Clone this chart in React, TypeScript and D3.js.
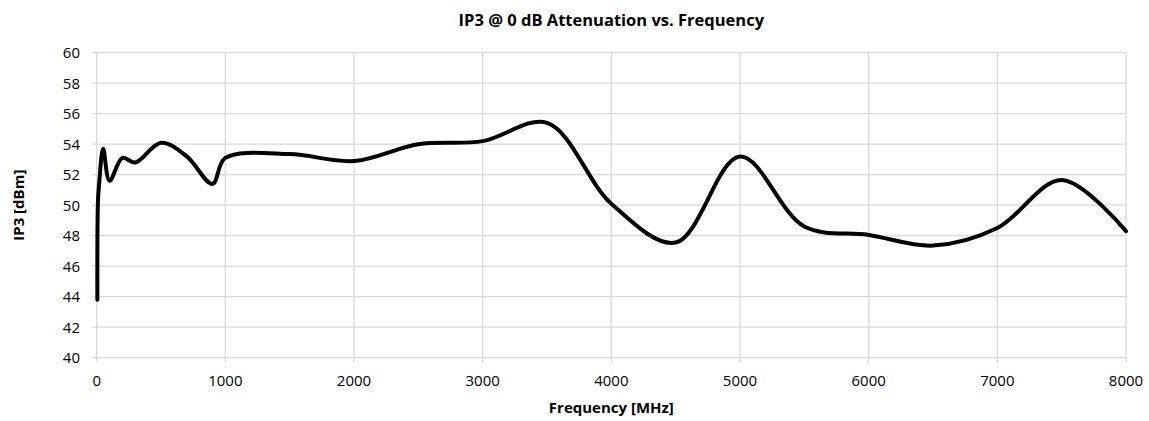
import React, { useEffect, useRef } from 'react';
import * as d3 from 'd3';

const freqMHz = [5, 10, 20, 50, 100, 200, 300, 500, 700, 900, 1000, 1500, 2000, 2500, 3000, 3500, 4000, 4500, 5000, 5500, 6000, 6500, 7000, 7500, 8000];
const ip3dBm = [43.8, 50.3, 51.5, 53.7, 51.6, 53.1, 52.8, 54.1, 53.2, 51.4, 53.1, 53.35, 52.9, 54.0, 54.2, 55.4, 50.1, 47.55, 53.2, 48.6, 48.05, 47.35, 48.5, 51.65, 48.3];

const xTicks = [0, 1000, 2000, 3000, 4000, 5000, 6000, 7000, 8000];
const yTicks = [40, 42, 44, 46, 48, 50, 52, 54, 56, 58, 60];

const chartTitle = 'IP3 @ 0 dB Attenuation vs. Frequency';
const xTitle = 'Frequency [MHz]';
const yTitle = 'IP3 [dBm]';

const W = 1149;
const H = 421;
const FONT = '"Open Sans", sans-serif';

const App: React.FC = () => {
  const ref = useRef<SVGSVGElement>(null);

  useEffect(() => {
    if (!ref.current) return;
    const svg = d3.select(ref.current);
    svg.selectAll('*').remove();

    const margin = { top: 52.7, right: W - 1126, bottom: H - 357.7, left: 96.7 };
    const width = W - margin.left - margin.right;
    const height = H - margin.top - margin.bottom;

    const x = d3.scaleLinear().domain([0, 8000]).range([0, width]);
    const y = d3.scaleLinear().domain([40, 60]).range([height, 0]);

    const g = svg.append('g').attr('transform', `translate(${margin.left},${margin.top})`);

    // gridlines + outside tick marks
    g.append('g')
      .selectAll('line')
      .data(yTicks)
      .join('line')
      .attr('x1', -5)
      .attr('x2', width)
      .attr('y1', d => y(d))
      .attr('y2', d => y(d))
      .attr('stroke', '#d9d9d9')
      .attr('stroke-width', 1.3);

    g.append('g')
      .selectAll('line')
      .data(xTicks)
      .join('line')
      .attr('x1', d => x(d))
      .attr('x2', d => x(d))
      .attr('y1', 0)
      .attr('y2', height + 5)
      .attr('stroke', '#d9d9d9')
      .attr('stroke-width', 1.3);

    // tick labels
    g.append('g')
      .selectAll('text')
      .data(yTicks)
      .join('text')
      .attr('x', -16.7)
      .attr('y', d => y(d))
      .attr('dy', '0.36em')
      .attr('text-anchor', 'end')
      .attr('font-family', FONT)
      .attr('font-size', 15)
      .attr('fill', '#000')
      .text(d => d);

    g.append('g')
      .selectAll('text')
      .data(xTicks)
      .join('text')
      .attr('x', d => x(d))
      .attr('y', 386 - margin.top)
      .attr('text-anchor', 'middle')
      .attr('font-family', FONT)
      .attr('font-size', 15)
      .attr('fill', '#000')
      .text(d => d);

    // the curve
    const line = d3
      .line<number>()
      .x((d, i) => x(freqMHz[i]))
      .y(d => y(d))
      .curve(d3.curveCatmullRom.alpha(0.5));

    g.append('path')
      .datum(ip3dBm)
      .attr('fill', 'none')
      .attr('stroke', '#000')
      .attr('stroke-width', 4)
      .attr('stroke-linejoin', 'round')
      .attr('stroke-linecap', 'round')
      .attr('d', line);

    // titles
    svg.append('text')
      .attr('x', margin.left + width / 2)
      .attr('y', 26)
      .attr('text-anchor', 'middle')
      .attr('font-family', FONT)
      .attr('font-weight', 'bold')
      .attr('font-size', 16.5)
      .text(chartTitle);

    svg.append('text')
      .attr('x', margin.left + width / 2)
      .attr('y', 412.7)
      .attr('text-anchor', 'middle')
      .attr('font-family', FONT)
      .attr('font-weight', 'bold')
      .attr('font-size', 15)
      .text(xTitle);

    svg.append('text')
      .attr('transform', `translate(23.5,${margin.top + height / 2}) rotate(-90)`)
      .attr('text-anchor', 'middle')
      .attr('font-family', FONT)
      .attr('font-weight', 'bold')
      .attr('font-size', 15)
      .text(yTitle);
  }, []);

  return (
    <svg
      ref={ref}
      width={W}
      height={H}
      style={{ position: 'absolute', left: 0, top: 0, background: '#fff' }}
    />
  );
};

export default App;
